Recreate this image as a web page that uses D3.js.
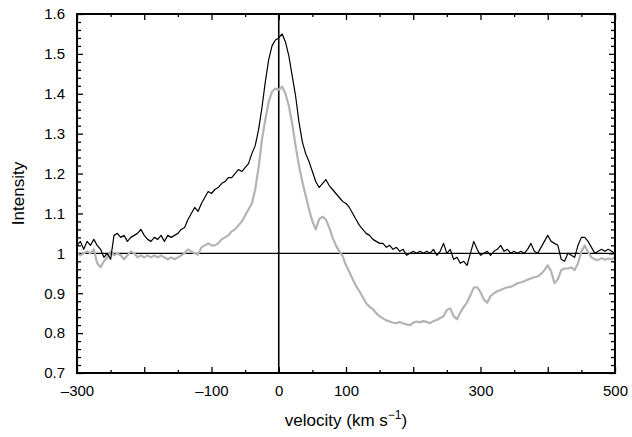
<!DOCTYPE html>
<html><head><meta charset="utf-8">
<script src="https://cdn.jsdelivr.net/npm/d3@7"></script>
<style>body{margin:0;background:#fff;} text{font-family:"Liberation Sans",Arial,Helvetica,sans-serif;}</style>
</head><body><svg id="c" width="632" height="437"></svg>
<script>
const velocity = d3.range(-300, 501, 5);
const blackValues = [
1.02,1.03,1.01,1.03,1.02,1.035,1.02,1.01,0.99,1.00,
0.985,1.045,1.05,1.04,1.045,1.03,1.04,1.045,1.05,1.06,
1.045,1.035,1.03,1.04,1.035,1.045,1.03,1.045,1.04,1.045,
1.05,1.06,1.065,1.085,1.10,1.115,1.105,1.125,1.14,1.155,
1.15,1.16,1.165,1.175,1.18,1.19,1.19,1.20,1.21,1.205,
1.215,1.225,1.25,1.27,1.31,1.365,1.43,1.485,1.52,1.535,
1.54,1.55,1.53,1.495,1.445,1.395,1.33,1.28,1.25,1.23,
1.205,1.18,1.165,1.175,1.185,1.17,1.16,1.15,1.14,1.13,
1.125,1.115,1.10,1.085,1.07,1.06,1.05,1.045,1.035,1.03,
1.025,1.025,1.015,1.02,1.01,1.015,1.005,1.01,0.995,1.0,
1.005,1.0,1.005,1.0,1.005,1.0,1.01,0.995,1.005,1.025,
1.0,1.01,0.985,0.99,0.975,0.98,0.97,1.0,1.03,1.01,
0.995,1.0,1.005,0.995,1.005,1.01,1.02,1.005,1.01,1.0,
1.005,1.0,1.005,1.0,1.01,1.025,1.005,1.0,1.015,1.03,
1.045,1.03,1.025,1.02,0.985,0.98,1.0,0.995,0.99,1.02,
1.04,1.04,1.03,1.015,1.0,1.005,1.01,1.005,1.01,1.005,1.0];
const grayValues = [
1.0,0.995,1.0,1.005,1.0,1.01,0.975,0.965,0.98,0.99,
1.005,0.995,1.0,0.995,0.985,0.995,1.005,1.0,0.99,0.995,
0.99,0.995,0.99,0.995,0.99,0.995,0.99,0.985,0.99,0.985,
0.99,0.995,1.0,1.01,1.005,1.0,0.997,1.015,1.02,1.025,
1.02,1.02,1.025,1.035,1.04,1.045,1.055,1.06,1.07,1.08,
1.095,1.11,1.125,1.16,1.215,1.285,1.335,1.38,1.405,1.413,
1.41,1.418,1.40,1.37,1.325,1.27,1.22,1.18,1.145,1.11,
1.08,1.06,1.085,1.092,1.085,1.065,1.04,1.02,1.005,0.993,
0.97,0.953,0.935,0.918,0.905,0.89,0.875,0.866,0.86,0.85,
0.842,0.837,0.832,0.829,0.826,0.825,0.828,0.824,0.822,0.82,
0.826,0.829,0.827,0.83,0.828,0.825,0.83,0.833,0.838,0.842,
0.858,0.862,0.843,0.835,0.852,0.865,0.877,0.895,0.914,0.915,
0.903,0.884,0.876,0.893,0.9,0.905,0.908,0.912,0.915,0.916,
0.92,0.925,0.927,0.93,0.934,0.937,0.94,0.942,0.948,0.958,
0.97,0.955,0.925,0.935,0.958,0.962,0.962,0.965,0.958,0.975,
1.005,1.02,1.003,0.99,0.985,0.983,0.988,0.984,0.987,0.985,0.99];
const xLabels = [-300, -100, 0, 100, 300, 500];
const yLabels = [0.7, 0.8, 0.9, 1, 1.1, 1.2, 1.3, 1.4, 1.5, 1.6];

const svg = d3.select("#c");
const L = 77, R = 615, T = 14, B = 373;
const x = d3.scaleLinear().domain([-300, 500]).range([L, R]);
const y = d3.scaleLinear().domain([0.7, 1.6]).range([B, T]);

const fmtX = v => xLabels.includes(v) ? (v < 0 ? "\u2013" + Math.abs(v) : String(v)) : "";

const majorX = d3.range(-300, 501, 100), minorX = d3.range(-250, 500, 100);
const majorY = yLabels, minorY = d3.range(0, 46).map(i => 0.7 + i*0.02).filter(v => Math.abs(v*10 - Math.round(v*10)) > 1e-6);

function styleAxis(g){ g.select(".domain").remove(); g.selectAll("line").attr("stroke","#000").attr("stroke-width",1.3); g.selectAll("text").attr("font-size",15).attr("fill","#000"); }

// bottom
svg.append("g").attr("transform",`translate(0,${B})`).call(d3.axisBottom(x).tickValues(majorX).tickSize(-6).tickPadding(12).tickFormat(fmtX)).call(styleAxis);
svg.append("g").attr("transform",`translate(0,${B})`).call(d3.axisBottom(x).tickValues(minorX).tickSize(-3).tickFormat("")).call(styleAxis);
// top
svg.append("g").attr("transform",`translate(0,${T})`).call(d3.axisTop(x).tickValues(majorX).tickSize(-6).tickFormat("")).call(styleAxis);
svg.append("g").attr("transform",`translate(0,${T})`).call(d3.axisTop(x).tickValues(minorX).tickSize(-3).tickFormat("")).call(styleAxis);
// left
svg.append("g").attr("transform",`translate(${L},0)`).call(d3.axisLeft(y).tickValues(majorY).tickSize(-6).tickPadding(12).tickFormat(d => String(d))).call(styleAxis);
svg.append("g").attr("transform",`translate(${L},0)`).call(d3.axisLeft(y).tickValues(minorY).tickSize(-4).tickFormat("")).call(styleAxis);
// right
svg.append("g").attr("transform",`translate(${R},0)`).call(d3.axisRight(y).tickValues(majorY).tickSize(-6).tickFormat("")).call(styleAxis);
svg.append("g").attr("transform",`translate(${R},0)`).call(d3.axisRight(y).tickValues(minorY).tickSize(-4).tickFormat("")).call(styleAxis);

// reference lines
svg.append("line").attr("x1",L).attr("x2",R).attr("y1",y(1)).attr("y2",y(1)).attr("stroke","#000").attr("stroke-width",1.2);
svg.append("line").attr("x1",x(0)).attr("x2",x(0)).attr("y1",T).attr("y2",B).attr("stroke","#000").attr("stroke-width",1.6);

const line = d3.line().x((d,i) => x(velocity[i])).y(d => y(d));
svg.append("path").datum(grayValues).attr("d",line).attr("fill","none").attr("stroke","#b3b3b3").attr("stroke-width",2.2).attr("stroke-linejoin","round");
svg.append("path").datum(blackValues).attr("d",line).attr("fill","none").attr("stroke","#000").attr("stroke-width",1.2).attr("stroke-linejoin","round");

// frame
svg.append("rect").attr("x",L).attr("y",T).attr("width",R-L).attr("height",B-T).attr("fill","none").attr("stroke","#000").attr("stroke-width",2);

// titles
const xt = svg.append("text").attr("x",(L+R)/2).attr("y",426).attr("text-anchor","middle").attr("font-size",17).attr("fill","#000");
xt.append("tspan").text("velocity (km s");
xt.append("tspan").attr("dy",-7).attr("font-size",12).text("\u22121");
xt.append("tspan").attr("dy",7).text(")");
svg.append("text").attr("transform",`translate(24,${(T+B)/2}) rotate(-90)`).attr("text-anchor","middle").attr("font-size",17).attr("fill","#000").text("Intensity");
</script></body></html>
